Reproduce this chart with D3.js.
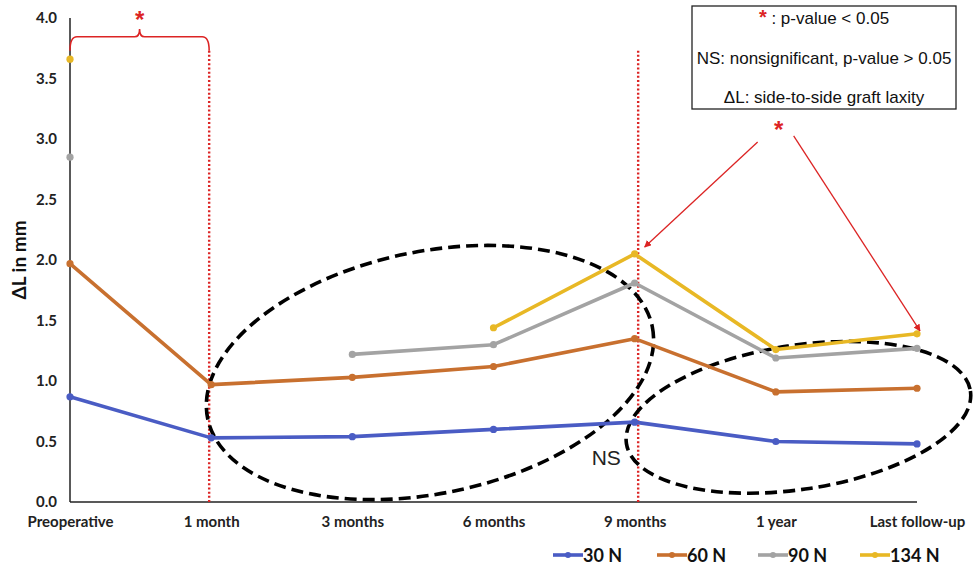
<!DOCTYPE html>
<html>
<head>
<meta charset="utf-8">
<script src="https://cdn.jsdelivr.net/npm/d3@7"></script>
<style>
  html, body { margin: 0; padding: 0; background: #fff; }
  svg { display: block; }
</style>
</head>
<body>
<svg id="chart" width="973" height="566"></svg>
<script>
// Time points after reconstruction
const timepoints = ["Preoperative", "1 month", "3 months", "6 months", "9 months", "1 year", "Last follow-up"];

// Side-to-side laxity (mm) per applied load; null = not measured
const laxity30N  = [0.87, 0.53, 0.54, 0.60, 0.66, 0.50, 0.48];
const laxity60N  = [1.97, 0.97, 1.03, 1.12, 1.35, 0.91, 0.94];
const laxity90N  = [2.85, null, 1.22, 1.30, 1.81, 1.19, 1.27];
const laxity134N = [3.66, null, null, 1.44, 2.05, 1.26, 1.39];

const seriesNames = ["30 N", "60 N", "90 N", "134 N"];
const yTicks = [0.0, 0.5, 1.0, 1.5, 2.0, 2.5, 3.0, 3.5, 4.0];

const colors = ["#4a5cc4", "#c8702f", "#a3a3a3", "#e8b825"];
const series = [laxity30N, laxity60N, laxity90N, laxity134N].map((vals, i) => ({
  name: seriesNames[i], color: colors[i], values: vals
}));

const svg = d3.select("#chart");
const red = "#dc2424";

const x = d3.scalePoint().domain(timepoints).range([70, 917]);
const y = d3.scaleLinear().domain([0, 4]).range([502, 18]);
const step = x.step();

// Y tick labels (no tick marks)
const yAxis = d3.axisLeft(y).tickValues(yTicks).tickFormat(d3.format(".1f")).tickSize(0).tickPadding(13);
const gy = svg.append("g").attr("transform", "translate(70,0)").call(yAxis);
gy.select(".domain").remove();
gy.selectAll("text")
  .attr("font-family", "Lato, 'Open Sans', sans-serif")
  .attr("font-weight", "bold").attr("font-size", 15).attr("fill", "#222");

// X tick labels
const xAxis = d3.axisBottom(x).tickSize(0).tickPadding(14);
const gx = svg.append("g").attr("transform", "translate(0,502)").call(xAxis);
gx.select(".domain").remove();
gx.selectAll("text")
  .attr("font-family", "Lato, 'Open Sans', sans-serif")
  .attr("font-weight", "bold").attr("font-size", 15).attr("fill", "#222");

// Axis lines
svg.append("line").attr("x1", 70).attr("x2", 70).attr("y1", y(4)).attr("y2", y(0))
  .attr("stroke", "#222").attr("stroke-width", 1.5);
svg.append("line").attr("x1", 70).attr("x2", x("Last follow-up")).attr("y1", y(0)).attr("y2", y(0))
  .attr("stroke", "#222").attr("stroke-width", 1.5);

// Y title
svg.append("text")
  .attr("transform", `translate(26,${y(2)}) rotate(-90)`)
  .attr("text-anchor", "middle")
  .attr("font-family", "Lato, 'Open Sans', sans-serif")
  .attr("font-weight", "bold").attr("font-size", 19).attr("fill", "#111")
  .text("ΔL in mm");

// Red dotted reference lines at 1 month and 9 months
[["1 month", -2], ["9 months", 3.5]].forEach(([t, dx]) => {
  svg.append("line")
    .attr("x1", x(t) + dx).attr("x2", x(t) + dx)
    .attr("y1", y(3.73)).attr("y2", y(0))
    .attr("stroke", red).attr("stroke-width", 2.4)
    .attr("stroke-dasharray", "2,2.2");
});

// Ellipses grouping the follow-up periods
const ellipses = [
  { cx: x("3 months") + 0.55 * step, cy: y(1.07), rx: 227, ry: 121, angle: -11.7 },
  { cx: x("1 year") + 0.16 * step,   cy: y(0.70), rx: 174, ry: 72,  angle: -8.7 }
];
ellipses.forEach(e => {
  svg.append("ellipse")
    .attr("cx", 0).attr("cy", 0).attr("rx", e.rx).attr("ry", e.ry)
    .attr("transform", `translate(${e.cx},${e.cy}) rotate(${e.angle})`)
    .attr("fill", "none").attr("stroke", "#000")
    .attr("stroke-width", 3.6).attr("stroke-dasharray", "12,6");
});

// Series lines
const line = d3.line()
  .defined(d => d.v !== null)
  .x(d => x(d.t)).y(d => y(d.v));

series.forEach(s => {
  const pts = s.values.map((v, i) => ({ t: timepoints[i], v }));
  svg.append("path").datum(pts)
    .attr("d", line)
    .attr("fill", "none").attr("stroke", s.color)
    .attr("stroke-width", 3.6).attr("stroke-linejoin", "round").attr("stroke-linecap", "round");
  svg.append("g").selectAll("circle")
    .data(pts.filter(d => d.v !== null))
    .join("circle")
    .attr("cx", d => x(d.t)).attr("cy", d => y(d.v)).attr("r", 3.6)
    .attr("fill", s.color);
});

// Significance brace between preoperative and 1 month
const bx0 = x("Preoperative"), bx1 = x("1 month") - 2, bxm = (bx0 + bx1) / 2;
const by = y(3.845), byPeak = y(3.91), byEnd = y(3.73);
svg.append("path")
  .attr("d", `M${bx0},${byEnd} Q${bx0},${by} ${bx0 + 7},${by} L${bxm - 5},${by} Q${bxm},${by} ${bxm},${byPeak} Q${bxm},${by} ${bxm + 5},${by} L${bx1 - 7},${by} Q${bx1},${by} ${bx1},${byEnd}`)
  .attr("fill", "none").attr("stroke", red).attr("stroke-width", 1.6);
svg.append("text")
  .attr("x", bxm).attr("y", y(3.92))
  .attr("text-anchor", "middle")
  .attr("font-family", "Liberation Sans, Arial, sans-serif")
  .attr("font-weight", "bold").attr("font-size", 24).attr("fill", red)
  .text("*");

// Arrow marker
svg.append("defs").append("marker")
  .attr("id", "arrowhead").attr("viewBox", "0 0 10 10")
  .attr("refX", 9).attr("refY", 5)
  .attr("markerWidth", 7).attr("markerHeight", 7)
  .attr("markerUnits", "userSpaceOnUse")
  .attr("orient", "auto")
  .append("path").attr("d", "M0,0 L10,5 L0,10 Z").attr("fill", red);

// Asterisk pointing to 9-month and last follow-up values
const starX = x("9 months") + 1.02 * step, starY = y(3.1);
svg.append("text")
  .attr("x", starX).attr("y", starY + 11)
  .attr("text-anchor", "middle")
  .attr("font-family", "Liberation Sans, Arial, sans-serif")
  .attr("font-weight", "bold").attr("font-size", 24).attr("fill", red)
  .text("*");
svg.append("line")
  .attr("x1", starX - 21).attr("y1", starY + 15)
  .attr("x2", x("9 months") + 10).attr("y2", y(laxity134N[4]) - 7)
  .attr("stroke", red).attr("stroke-width", 1.3).attr("marker-end", "url(#arrowhead)");
svg.append("line")
  .attr("x1", starX + 15).attr("y1", starY + 9)
  .attr("x2", x("Last follow-up") + 3).attr("y2", y(laxity134N[6]) - 3)
  .attr("stroke", red).attr("stroke-width", 1.3).attr("marker-end", "url(#arrowhead)");

// NS label
svg.append("text")
  .attr("x", x("9 months") - 43).attr("y", y(0.305))
  .attr("font-family", "Liberation Sans, Arial, sans-serif")
  .attr("font-size", 21).attr("fill", "#222")
  .text("NS");

// Key box
const box = { x: 692, y: 6, w: 264, h: 103 };
svg.append("rect")
  .attr("x", box.x).attr("y", box.y).attr("width", box.w).attr("height", box.h)
  .attr("fill", "#fff").attr("stroke", "#222").attr("stroke-width", 1.3);
const keyFont = "Liberation Sans, Arial, sans-serif";
const k1 = svg.append("text")
  .attr("x", box.x + box.w / 2).attr("y", 24)
  .attr("text-anchor", "middle")
  .attr("font-family", keyFont).attr("font-size", 17).attr("fill", "#111");
k1.append("tspan").attr("fill", red).attr("font-weight", "bold").attr("font-size", 20).text("*");
k1.append("tspan").text(" : p-value < 0.05");
svg.append("text")
  .attr("x", box.x + box.w / 2).attr("y", 64)
  .attr("text-anchor", "middle")
  .attr("font-family", keyFont).attr("font-size", 17).attr("fill", "#111")
  .text("NS: nonsignificant, p-value > 0.05");
svg.append("text")
  .attr("x", box.x + box.w / 2).attr("y", 103)
  .attr("text-anchor", "middle")
  .attr("font-family", keyFont).attr("font-size", 17).attr("fill", "#111")
  .text("ΔL: side-to-side graft laxity");

// Series legend
const legendX = [553, 657, 758, 860];
const legendY = 555;
series.forEach((s, i) => {
  const g = svg.append("g").attr("transform", `translate(${legendX[i]},${legendY})`);
  g.append("line").attr("x1", 0).attr("x2", 30).attr("y1", 0).attr("y2", 0)
    .attr("stroke", s.color).attr("stroke-width", 3.6);
  g.append("circle").attr("cx", 15).attr("cy", 0).attr("r", 3).attr("fill", s.color);
  g.append("text").attr("x", 30).attr("y", 6.5)
    .attr("font-family", "Lato, 'Open Sans', sans-serif")
    .attr("font-weight", "bold").attr("font-size", 18).attr("fill", "#111")
    .text(s.name);
});
</script>
</body>
</html>
